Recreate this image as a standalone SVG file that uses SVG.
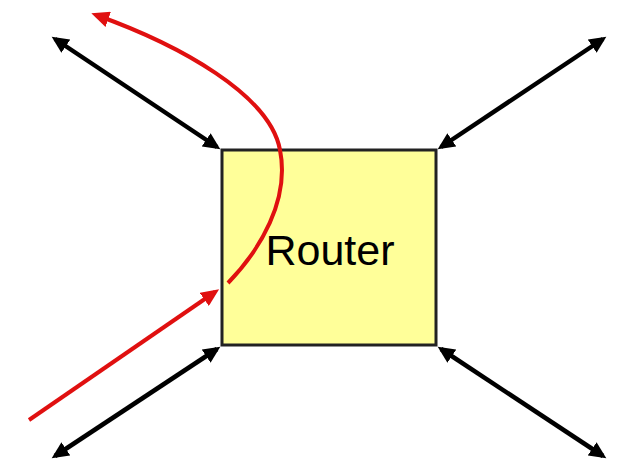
<svg xmlns="http://www.w3.org/2000/svg" width="620" height="462" viewBox="0 0 620 462">
<style>
.link{stroke:#000;stroke-width:4.5;fill:none;marker-start:url(#ab);marker-end:url(#ab)}
.flow{stroke:#e01010;stroke-width:4;fill:none;marker-end:url(#ar)}
.label{font-family:"Liberation Sans",Arial,sans-serif;font-size:43px;fill:#000}
</style>
<defs>
<marker id="ab" markerUnits="userSpaceOnUse" markerWidth="18" markerHeight="16" refX="13" refY="8" orient="auto-start-reverse">
<path d="M0,0 L17,8 L0,16 z" fill="#000"/>
</marker>
<marker id="ar" markerUnits="userSpaceOnUse" markerWidth="19" markerHeight="16" refX="13" refY="8" orient="auto">
<path d="M0,0 L18,8 L0,16 z" fill="#e01010"/>
</marker>
</defs>
<rect width="620" height="462" fill="#fff"/>
<g id="router">
<rect x="222" y="150" width="214" height="195" fill="#ffff99" stroke="#222" stroke-width="3"/>
<text class="label" x="330" y="265" text-anchor="middle">Router</text>
</g>
<g id="connectors">
<path class="link" d="M55,39 L217,147"/>
<path class="link" d="M603,39 L441,147"/>
<path class="link" d="M55,456 L217,349"/>
<path class="link" d="M603,456 L441,349"/>
<path class="flow" d="M29,420 L215,292"/>
<path class="flow" d="M228,283 C260,250 290,200 280,150 C270,95 180,45 96,15"/>
</g>
</svg>
